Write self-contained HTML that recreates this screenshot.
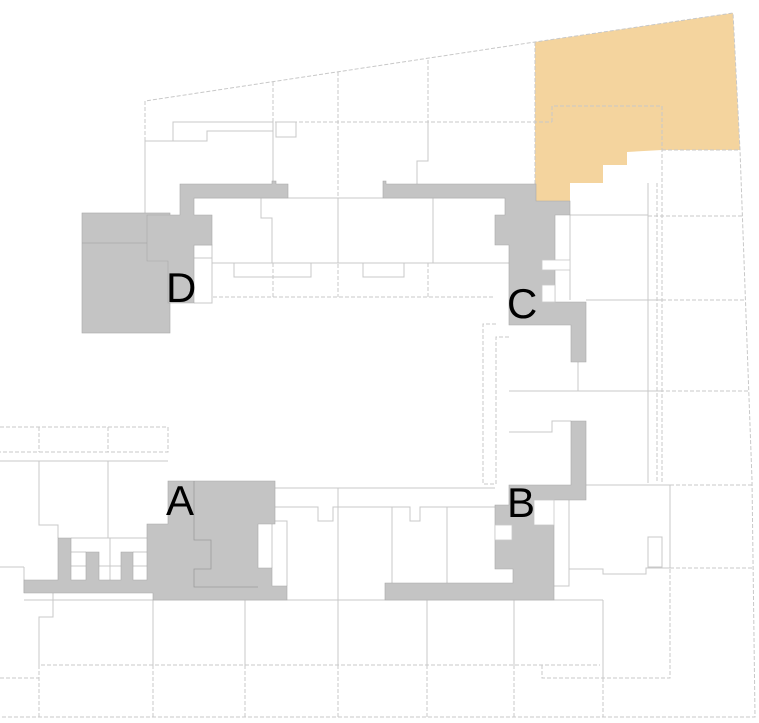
<!DOCTYPE html>
<html><head><meta charset="utf-8"><style>
html,body{margin:0;padding:0;background:#fff;}
svg{display:block;}
text{font-family:"Liberation Sans",Arial,sans-serif;font-size:42px;fill:#000;}
</style></head><body>
<svg width="759" height="723" viewBox="0 0 759 723" xmlns="http://www.w3.org/2000/svg">
<rect width="759" height="723" fill="#fff"/>
<!-- orange -->
<polygon points="535,42 733,13 740,150 662,150 627,152 627,165 603,165 603,183 570,183 570,201 535,201" fill="#f4d49e"/>
<g fill="none" stroke="#c8c8c8" stroke-width="1" stroke-dasharray="4,2">
<polyline points="145,141 145,101 535,42 733,13 740,150 752,480 755,717 0,717"/>
<line x1="535" y1="42" x2="535" y2="201"/>
<polyline points="552,122 552,106 662,106 662,483"/>
<line x1="273" y1="82" x2="273" y2="122"/>
<line x1="338" y1="72" x2="338" y2="297"/>
<line x1="428" y1="60" x2="428" y2="122"/>
<line x1="173" y1="122" x2="552" y2="122"/>
<line x1="145" y1="141" x2="200" y2="141"/>
<line x1="213" y1="297" x2="495" y2="297"/>
<line x1="273" y1="263" x2="273" y2="297"/>
<line x1="428" y1="263" x2="428" y2="297"/>
<line x1="662" y1="150" x2="740" y2="150"/>
<line x1="648" y1="216" x2="744" y2="216"/>
<line x1="662" y1="300" x2="746" y2="300"/>
<line x1="648" y1="391" x2="748" y2="391"/>
<line x1="670" y1="485" x2="752" y2="485"/>
<line x1="670" y1="568" x2="753" y2="568"/>
<polyline points="0,427 168,427 168,452 0,452"/>
<line x1="39" y1="427" x2="39" y2="452"/>
<line x1="108" y1="427" x2="108" y2="452"/>
<polyline points="0,678 39,678 39,665 600,665"/>
<line x1="39" y1="665" x2="39" y2="717"/>
<line x1="153" y1="665" x2="153" y2="717"/>
<line x1="245" y1="665" x2="245" y2="717"/>
<line x1="338" y1="665" x2="338" y2="717"/>
<line x1="427" y1="665" x2="427" y2="717"/>
<line x1="514" y1="665" x2="514" y2="717"/>
<line x1="603" y1="678" x2="603" y2="717"/>
<polyline points="542,665 542,678 670,678 670,485"/>
<polyline points="496,324 483,324 483,484 496,484"/>
<polyline points="509,337 496,337 496,484"/>
<line x1="657" y1="183" x2="657" y2="483"/>
</g>
<g fill="none" stroke="#c8c8c8" stroke-width="1">
<polyline points="173,141 173,122 273,122 273,131 207,131 207,141 145,141 145,215"/>
<rect x="276" y="122" width="20" height="15"/>
<line x1="273" y1="131" x2="273" y2="184"/>
<polyline points="417,184 417,161 428,161 428,122"/>
<line x1="194" y1="198" x2="505" y2="198"/>
<polyline points="261,198 261,218 272,218 272,263"/>
<line x1="338" y1="198" x2="338" y2="263"/>
<line x1="433" y1="198" x2="433" y2="263"/>
<line x1="212" y1="263" x2="509" y2="263"/>
<polyline points="234,263 234,277 311,277 311,263"/>
<polyline points="363,263 363,277 404,277 404,263"/>
<polyline points="194,245 212,245 212,303 194,303"/>
<line x1="194" y1="258" x2="212" y2="258"/>
<line x1="570" y1="215" x2="648" y2="215"/>
<line x1="570" y1="215" x2="570" y2="300"/>
<line x1="586" y1="300" x2="662" y2="300"/>
<line x1="648" y1="183" x2="648" y2="483"/>
<line x1="509" y1="391" x2="662" y2="391"/>
<polyline points="509,432 552,432 552,421 571,421"/>
<polyline points="586,485 670,485 670,568"/>
<line x1="578" y1="362" x2="578" y2="391"/>
<polyline points="569,500 569,586 554,586"/>
<polyline points="569,569 603,569 603,574 646,574 646,568 670,568"/>
<rect x="648" y="537" width="14" height="30"/>
<line x1="554" y1="600" x2="603" y2="600"/>
<line x1="603" y1="600" x2="603" y2="678"/>
<line x1="24" y1="600" x2="603" y2="600"/>
<line x1="153" y1="600" x2="153" y2="665"/>
<line x1="245" y1="600" x2="245" y2="665"/>
<line x1="338" y1="600" x2="338" y2="665"/>
<line x1="427" y1="600" x2="427" y2="665"/>
<line x1="514" y1="600" x2="514" y2="665"/>
<polyline points="53,593 53,617 39,617 39,665"/>
<line x1="0" y1="461" x2="168" y2="461"/>
<polyline points="39,461 39,525 58,525 58,538"/>
<line x1="108" y1="461" x2="108" y2="538"/>
<line x1="0" y1="567" x2="24" y2="567"/>
<line x1="24" y1="567" x2="24" y2="593"/>
<line x1="71" y1="538" x2="147" y2="538"/>
<line x1="133" y1="552" x2="147" y2="552"/>
<line x1="133" y1="566" x2="147" y2="566"/>
<line x1="71" y1="552" x2="86" y2="552"/>
<line x1="71" y1="566" x2="86" y2="566"/>
<line x1="99" y1="566" x2="121" y2="566"/>
<line x1="110" y1="538" x2="110" y2="580"/>
<polyline points="275,488 495,488"/>
<polyline points="275,507 318,507 318,521 333,521 333,507 410,507 410,521 420,521 420,507 495,507"/>
<line x1="338" y1="488" x2="338" y2="600"/>
<line x1="392" y1="507" x2="392" y2="583"/>
<line x1="447" y1="507" x2="447" y2="583"/>
<polyline points="287,586 287,521 272,521 272,568"/>
</g>
<!-- gray blocks -->
<g fill="#c4c4c4" stroke="#a8a8a8" stroke-width="0.6">
<rect x="82" y="213" width="88" height="120"/>
<polygon points="147,215 180,215 180,184 272,184 272,181 276,181 276,184 288,184 288,198 194,198 194,215 212,215 212,245 194,245 194,303 168,303 168,261 147,261"/>
<polygon points="383,181 386,181 386,184 536,184 536,201 570,201 570,215 555,215 555,302 586,302 586,362 571,362 571,325 509,325 509,245 495,245 495,215 505,215 505,198 383,198"/>
<polygon points="571,421 586,421 586,500 534,500 534,525 554,525 554,600 385,600 385,583 513,583 513,569 495,569 495,505 509,505 509,485 571,485"/>
<polygon points="24,580 58,580 58,538 71,538 71,580 86,580 86,552 99,552 99,580 121,580 121,552 133,552 133,580 147,580 147,524 168,524 168,481 275,481 275,524 258,524 258,568 272,568 272,586 287,586 287,600 153,600 153,593 24,593"/>
</g>
<line x1="82" y1="243" x2="147" y2="243" stroke="#a8a8a8" stroke-width="0.8"/>
<polyline points="194,481 194,540 211,540 211,569 194,569 194,587 258,587" fill="none" stroke="#9c9c9c" stroke-width="0.8"/>
<g fill="#fff" stroke="#c8c8c8" stroke-width="0.8">
<rect x="542" y="260" width="28" height="10"/>
<rect x="542" y="285" width="13" height="17"/>
<rect x="495" y="525" width="17" height="15"/>
<rect x="534" y="500" width="20" height="25"/>
</g>
<text x="166" y="302">D</text>
<text x="507" y="318">C</text>
<text x="166" y="515">A</text>
<text x="507" y="517">B</text>
</svg>
</body></html>
